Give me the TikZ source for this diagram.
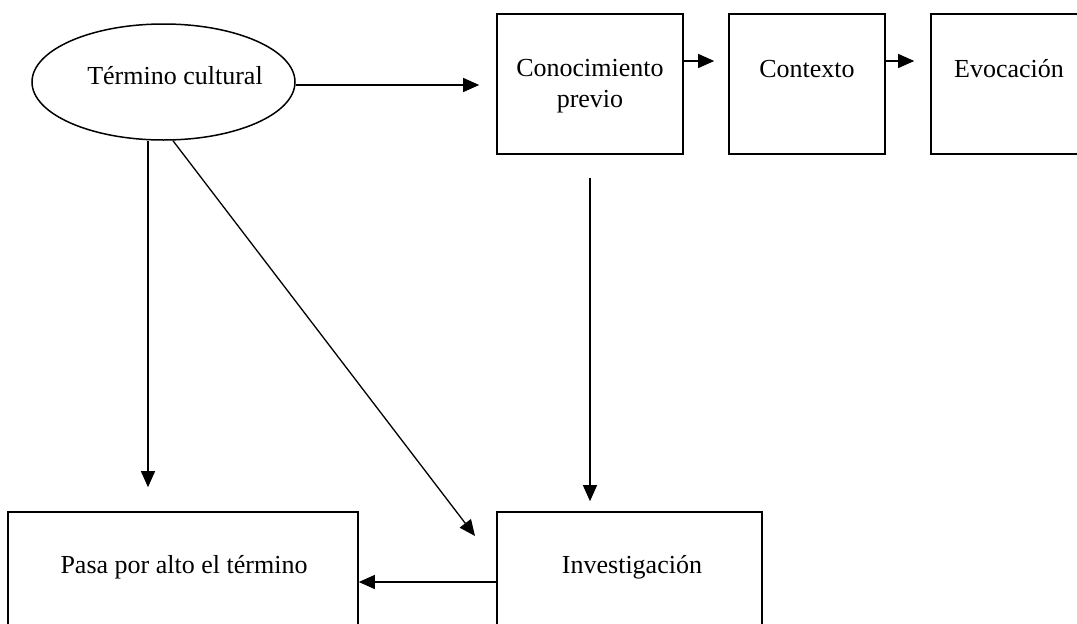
\documentclass[tikz,border=0pt]{standalone}
\usepackage{fontspec}
\setmainfont{Liberation Serif}
\usetikzlibrary{arrows.meta,shapes.geometric}
\tikzset{
  boxshape/.style={draw, line width=1.6pt, rectangle, inner sep=0pt},
  ovalshape/.style={draw, line width=1.5pt, ellipse, inner sep=0pt, minimum width=263pt, minimum height=116pt},
  lbl/.style={anchor=base, inner sep=0pt, font=\fontsize{26}{31}\selectfont},
  arr/.style={line width=1.3pt, -{Triangle[length=16pt,width=14pt]}},
  plain/.style={line width=1.3pt}
}
\begin{document}
\begin{tikzpicture}[x=1pt,y=-1pt]
\useasboundingbox (0,0) rectangle (1077,624);
\clip (0,0) rectangle (1077,624);
% shapes
\node[ovalshape] (ell) at (163.5,82) {};
\node[boxshape, minimum width=186pt, minimum height=140pt] (kp) at (590,84) {};
\node[boxshape, minimum width=156pt, minimum height=140pt] (ctx) at (807,84) {};
\node[boxshape, minimum width=170pt, minimum height=140pt] (evo) at (1016,84) {};
\node[boxshape, minimum width=265pt, minimum height=140pt] (inv) at (629.5,582) {};
\node[boxshape, minimum width=350pt, minimum height=140pt] (pasa) at (183,582) {};
% texts
\node[lbl] (tell) at (175,84) {Término cultural};
\node[lbl] (tkp1) at (590,76) {Conocimiento};
\node[lbl] (tkp2) at (590,107) {previo};
\node[lbl] (tctx) at (807,77) {Contexto};
\node[lbl] (tevo) at (1009,77) {Evocación};
\node[lbl] (tpasa) at (184,573) {Pasa por alto el término};
\node[lbl] (tinv) at (632,573) {Investigación};
% connectors
\coordinate (diagtip) at (475,536);
\draw[arr, shorten >=17pt] ([yshift=-3pt]ell.east) -- ([yshift=-3pt]kp.west |- ell.east);
\draw[arr, shorten >=14pt] ([yshift=23pt]kp.east) -- ([yshift=23pt]ctx.west);
\draw[arr, shorten >=16pt] ([yshift=23pt]ctx.east) -- ([yshift=23pt]evo.west);
\draw[arr, shorten <=23pt, shorten >=10pt] (kp.south) -- (kp.south |- inv.north);
\draw[arr, shorten >=24pt] ([xshift=-15.5pt]ell.south) -- ([xshift=-15.5pt]ell.south |- pasa.north);
\draw[arr] ([xshift=9.5pt]ell.south) -- (diagtip);
\draw[arr] (inv.west) -- (pasa.east);
\end{tikzpicture}
\end{document}
